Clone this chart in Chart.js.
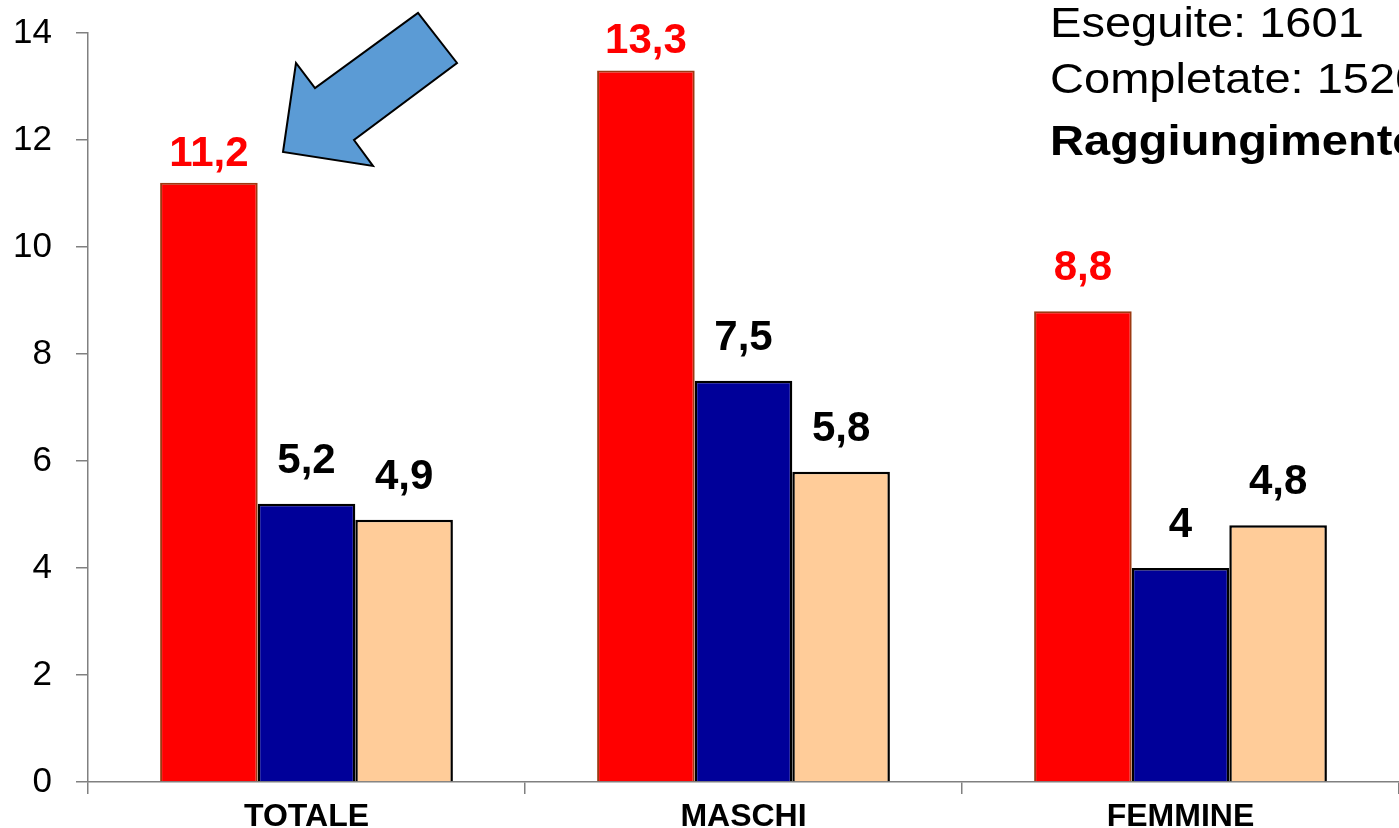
<!DOCTYPE html>
<html>
<head>
<meta charset="utf-8">
<script src="https://cdn.jsdelivr.net/npm/chart.js@4/dist/chart.umd.min.js"></script>
<style>
  html, body { margin: 0; padding: 0; background: #fff; }
  #wrap { width: 1399px; height: 828px; position: relative; }
</style>
</head>
<body>
<div id="wrap"><canvas id="chart"></canvas></div>
<script>
const categories = ["TOTALE", "MASCHI", "FEMMINE"];
const serieA = [11.2, 13.3, 8.8];
const serieB = [5.2, 7.5, 4];
const serieC = [4.9, 5.8, 4.8];
const yTicks = [0, 2, 4, 6, 8, 10, 12, 14];
const noteLines = ["Eseguite: 1601", "Completate: 1520", "Raggiungimento"];

const fmt = v => String(v).replace(".", ",");

// value labels over each bar
const valueLabels = {
  id: "valueLabels",
  afterDatasetsDraw(chart) {
    const ctx = chart.ctx;
    chart.data.datasets.forEach((ds, i) => {
      const meta = chart.getDatasetMeta(i);
      meta.data.forEach((bar, j) => {
        const gap = bar.y < 200 ? 17 : 31;
        ctx.save();
        ctx.font = "bold 42px 'Liberation Sans', Arial, sans-serif";
        ctx.fillStyle = ds.labelColor;
        ctx.textAlign = "center";
        ctx.textBaseline = "alphabetic";
        ctx.fillText(fmt(ds.data[j]), bar.x, bar.y - gap);
        ctx.restore();
      });
    });
  }
};

// arrow + text in the corner
const extras = {
  id: "extras",
  afterDraw(chart) {
    const ctx = chart.ctx;
    ctx.save();
    const pts = [[283,152],[296,63],[315,88],[418,13],[457,63],[354,140],[373,166]];
    ctx.beginPath();
    pts.forEach((p, i) => i ? ctx.lineTo(p[0], p[1]) : ctx.moveTo(p[0], p[1]));
    ctx.closePath();
    ctx.fillStyle = "#5b9bd5";
    ctx.fill();
    ctx.lineWidth = 2;
    ctx.strokeStyle = "#000";
    ctx.stroke();
    ctx.restore();

    ctx.save();
    ctx.fillStyle = "#000";
    ctx.textBaseline = "alphabetic";
    ctx.translate(1050, 0);
    ctx.scale(1.12, 1);
    const base = [37, 93, 155];
    noteLines.forEach((t, i) => {
      ctx.font = (i === 2 ? "bold " : "") + "42px 'Liberation Sans', Arial, sans-serif";
      ctx.fillText(t, 0, base[i]);
    });
    ctx.restore();
  }
};

new Chart(document.getElementById("chart"), {
  type: "bar",
  data: {
    labels: categories,
    datasets: [
      { data: serieA, backgroundColor: "#ff0000", borderColor: "#9c3a12", borderWidth: 2, labelColor: "#ff0000" },
      { data: serieB, backgroundColor: "#000099", borderColor: "#000000", borderWidth: 2.5, labelColor: "#000000" },
      { data: serieC, backgroundColor: "#ffcc99", borderColor: "#000000", borderWidth: 2.5, labelColor: "#000000" }
    ]
  },
  options: {
    responsive: true,
    maintainAspectRatio: false,
    animation: false,
    layout: { padding: { top: 33, right: 0, left: 0, bottom: 0 } },
    plugins: { legend: { display: false }, tooltip: { enabled: false } },
    datasets: { bar: { categoryPercentage: 0.67, barPercentage: 1.0 } },
    scales: {
      x: {
        grid: { offset: true, drawOnChartArea: false, drawTicks: true, tickLength: 12, color: "#808080", lineWidth: 1.5 },
        border: { color: "#808080", width: 1.5 },
        ticks: {
          color: "#000",
          padding: 4,
          font: { family: "'Liberation Sans Narrow', 'Liberation Sans', Arial", size: 32, weight: "bold" }
        },
        afterFit(s) { s.height = 46; s.paddingLeft = 0; s.paddingRight = 0; }
      },
      y: {
        min: 0,
        max: 14,
        afterBuildTicks(s) { s.ticks = yTicks.map(v => ({ value: v })); },
        grid: { drawOnChartArea: false, drawTicks: true, tickLength: 12, color: "#808080", lineWidth: 1.5 },
        border: { color: "#808080", width: 1.5 },
        ticks: {
          color: "#000",
          padding: 24,
          font: { family: "'Liberation Sans', Arial", size: 35 }
        },
        afterFit(s) { s.width = 88; s.paddingTop = 0; s.paddingBottom = 0; }
      }
    }
  },
  plugins: [valueLabels, extras]
});
</script>
</body>
</html>
